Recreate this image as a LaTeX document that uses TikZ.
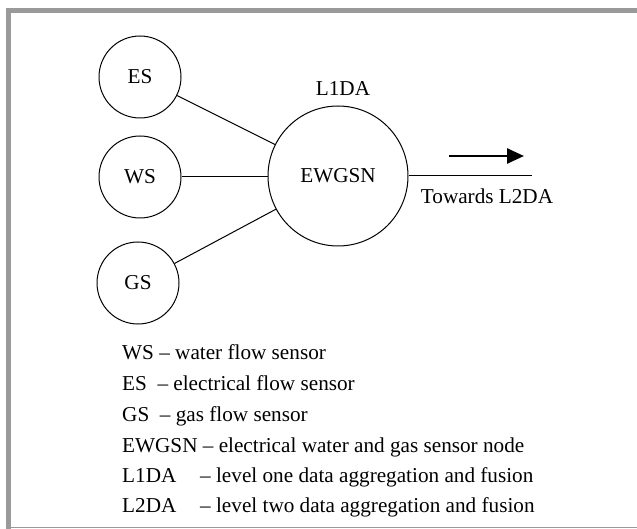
\documentclass[tikz,border=0pt]{standalone}
\usepackage{fontspec}
\setmainfont{Liberation Serif}
\usetikzlibrary{arrows.meta}
\definecolor{framegray}{HTML}{9A9A9A}
\begin{document}
\begin{tikzpicture}[x=1pt,y=-1pt,
  every node/.style={font=\fontsize{21.2}{25}\selectfont, inner sep=0pt},
  sensor/.style={circle, draw, line width=1pt, minimum size=82pt},
  hub/.style={circle, draw, line width=1pt, minimum size=140pt},
  conn/.style={line width=1pt},
  legend/.style={anchor=base west},
  framebar/.style={fill=framegray, draw=none}]
\useasboundingbox (0,0) rectangle (637,529);
% frame
\fill[framebar] (6,8) rectangle (637,13);
\fill[framebar] (6,8) rectangle (11,529);
\fill[framebar] (11,526.5) rectangle (637,528);
% nodes
\node[sensor] (es) at (140,77) {ES};
\node[sensor] (ws) at (140,177) {WS};
\node[sensor] (gs) at (138,283) {GS};
\node[hub] (hub) at (338,176) {EWGSN};
\node (l1) at (343,89) {L1DA};
\coordinate (outend) at (532,176);
\node (tow) at (487,196) {Towards L2DA};
\coordinate (ar1) at (449,156);
\coordinate (ar2) at (524,156);
% connectors
\draw[conn] (es) -- (hub);
\draw[conn] (ws.east) -- (ws.east -| hub.west);
\draw[conn] (gs) -- (hub);
\draw[conn] (hub.east) -- (outend);
\draw[line width=2.6pt, -{Triangle[length=17pt,width=15pt]}] (ar1) -- (ar2);
% legend
\node[legend] (lg1) at (122,359) {WS – water flow sensor};
\node[legend] (lg2) at (122,390) {ES\ \ – electrical flow sensor};
\node[legend] (lg3) at (122,421) {GS\ \ – gas flow sensor};
\node[legend] (lg4) at (122,452) {EWGSN – electrical water and gas sensor node};
\node[legend] (lg5) at (122,482) {\makebox[78pt][l]{L1DA}– level one data aggregation and fusion};
\node[legend] (lg6) at (122,512) {\makebox[78pt][l]{L2DA}– level two data aggregation and fusion};
\end{tikzpicture}
\end{document}
